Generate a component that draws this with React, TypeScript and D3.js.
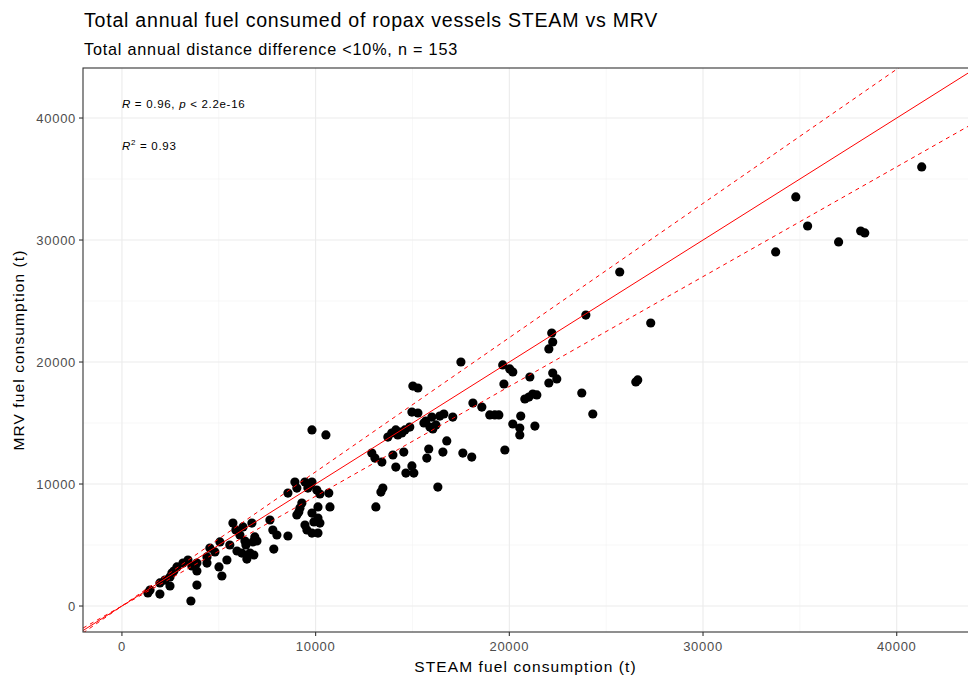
import * as d3 from 'd3';
import React from 'react';

// STEAM (x) vs MRV (y) annual fuel consumption, tonnes
const steam = [
  41290, 34790, 35400, 37000, 38140, 38350, 33750, 25700, 27300, 26630,
  23950, 23740, 24310, 22190, 22240, 22040, 19660, 20020, 20180, 21060,
  19720, 22240, 22450, 22040, 21210, 21010, 20800, 18120, 18580, 18990,
  19250, 19460, 20590, 20180, 20540, 20540, 21320, 19770, 17500, 15020,
  15280, 14970, 15280, 16000, 16410, 16620, 17080, 15590, 15900, 16210,
  16050, 14860, 14610, 14350, 14140, 13930, 13730, 14240, 16770, 12900,
  13060, 13420, 13990, 14550, 15840, 15740, 16570, 17600, 18060, 14140,
  14970, 14660, 15070, 13470, 13370, 16310, 13110, 9810, 10530, 8930,
  9450, 9810, 9030, 9600, 10060, 8570, 10220, 10680, 9290, 9190,
  9030, 10740, 10120, 9810, 10120, 9910, 10220, 9450, 9550, 9810,
  10120, 7640, 6710, 6250, 7790, 8000, 8570, 6860, 7840, 5730,
  5880, 6090, 6350, 6760, 6970, 5570, 5060, 4540, 5940, 6190,
  6450, 6810, 5420, 5010, 5160, 4390, 4390, 3870, 3870, 3410,
  3610, 3870, 3560, 2840, 2680, 2480, 2220, 2480, 1960, 1960,
  1450, 1340, 2580, 3150, 4800, 6610, 9700, 14450, 15690, 21420,
  6400, 9130, 26530,
];
const mrv = [
  35990, 33530, 31150, 29840, 30740, 30580, 29020, 27380, 23200, 18530,
  23850, 17460, 15740, 22380, 21640, 21070, 19760, 19430, 19180, 18770,
  18200, 19100, 18610, 18280, 17380, 17130, 16970, 16640, 16310, 15660,
  15660, 15660, 15570, 14920, 14590, 14020, 14750, 12790, 20000, 18030,
  17870, 15900, 15820, 15490, 15570, 15740, 15490, 15000, 14670, 14840,
  14510, 14670, 14430, 14260, 14430, 14180, 13850, 14020, 13530, 12540,
  12130, 11800, 12380, 12620, 12870, 12130, 12620, 12540, 12210, 11390,
  11480, 10900, 10900, 9670, 9340, 9750, 8120, 14430, 14020, 10160,
  10160, 10160, 9670, 9670, 9510, 9260, 9180, 9260, 8440, 8030,
  7460, 8120, 8120, 7620, 7210, 6890, 6800, 6640, 6230, 5980,
  5980, 7050, 6800, 6480, 6230, 5820, 5740, 5660, 4670, 6800,
  6230, 5820, 5330, 5250, 5330, 5000, 5250, 4750, 4510, 4340,
  3850, 4180, 3770, 3200, 2460, 4020, 3520, 3520, 2870, 3770,
  3280, 1720, 410, 3200, 2870, 2380, 2130, 1640, 1890, 980,
  1310, 1070, 2700, 3520, 4430, 4340, 9920, 14180, 15160, 17300,
  5000, 7710, 18360,
];

const majorTicks = [0, 10000, 20000, 30000, 40000];
const minorTicks = [-5000, 5000, 15000, 25000, 35000, 45000];
// reference lines: 1:1 and +/- 10 %
const refSlopes = [1, 1.1, 0.9];

const xDomain = [-2010, 43680];
const yDomain = [-2130, 44100];

const W = 968;
const H = 679;
const margin = { top: 68, right: 0, bottom: 47, left: 83 };

export default function App() {
  const x = d3.scaleLinear().domain(xDomain).range([margin.left, W - margin.right]);
  const y = d3.scaleLinear().domain(yDomain).range([H - margin.bottom, margin.top]);
  const x0 = margin.left, x1 = W - margin.right;
  const y0 = margin.top, y1 = H - margin.bottom;

  const pts = steam.map((s, i) => ({ s, m: mrv[i] }));
  const font = '"Liberation Sans", Arial, sans-serif';

  return (
    <svg width={W} height={H} style={{ position: 'absolute', left: 0, top: 0, fontFamily: font }}>
      <defs>
        <clipPath id="panel">
          <rect x={x0} y={y0} width={x1 - x0} height={y1 - y0} />
        </clipPath>
      </defs>
      <rect x={0} y={0} width={W} height={H} fill="white" />

      {/* grid */}
      <g clipPath="url(#panel)">
        {minorTicks.map((t) => (
          <g key={'mn' + t}>
            <line x1={x(t)} x2={x(t)} y1={y0} y2={y1} stroke="#f2f2f2" strokeWidth={0.6} />
            <line x1={x0} x2={x1} y1={y(t)} y2={y(t)} stroke="#f2f2f2" strokeWidth={0.6} />
          </g>
        ))}
        {majorTicks.map((t) => (
          <g key={'mj' + t}>
            <line x1={x(t)} x2={x(t)} y1={y0} y2={y1} stroke="#ebebeb" strokeWidth={1.1} />
            <line x1={x0} x2={x1} y1={y(t)} y2={y(t)} stroke="#ebebeb" strokeWidth={1.1} />
          </g>
        ))}

        {pts.map((d, i) => (
          <circle key={i} cx={x(d.s)} cy={y(d.m)} r={4.6} fill="black" />
        ))}

        {refSlopes.map((k) => {
          const xs = [xDomain[0], xDomain[1]];
          return (
            <path
              key={k}
              d={d3.line<number>().x((v) => x(v)).y((v) => y(v * k))(xs) || ''}
              fill="none"
              stroke="red"
              strokeWidth={1}
              strokeDasharray={k === 1 ? undefined : '4,4'}
            />
          );
        })}
      </g>

      {/* panel border */}
      <rect x={x0} y={y0} width={x1 - x0 + 10} height={y1 - y0} fill="none" stroke="#333333" strokeWidth={1.1} />

      {/* axes */}
      {majorTicks.map((t) => (
        <g key={'xt' + t}>
          <line x1={x(t)} x2={x(t)} y1={y1} y2={y1 + 4} stroke="#333333" strokeWidth={1.1} />
          <text x={x(t)} y={y1 + 19} textAnchor="middle" fontSize={13} letterSpacing={0.7} fill="#4d4d4d">{t}</text>
          <line x1={x0 - 4} x2={x0} y1={y(t)} y2={y(t)} stroke="#333333" strokeWidth={1.1} />
          <text x={x0 - 7} y={y(t) + 4.5} textAnchor="end" fontSize={13} letterSpacing={0.7} fill="#4d4d4d">{t}</text>
        </g>
      ))}

      <text x={(x0 + x1) / 2} y={672} textAnchor="middle" fontSize={15.5} letterSpacing={1.1} fill="black">STEAM fuel consumption (t)</text>
      <text transform={`translate(24,${(y0 + y1) / 2}) rotate(-90)`} textAnchor="middle" fontSize={15.5} letterSpacing={1.1} fill="black">MRV fuel consumption (t)</text>

      <text x={84} y={27} fontSize={19.6} letterSpacing={0.75} fill="black">Total annual fuel consumed of ropax vessels STEAM vs MRV</text>
      <text x={84} y={55} fontSize={16.2} letterSpacing={0.8} fill="black">Total annual distance difference &lt;10%, n = 153</text>

      {/* correlation annotation */}
      <text x={x(0)} y={108} fontSize={11.5} letterSpacing={0.7} fill="black">
        <tspan fontStyle="italic">R</tspan> = 0.96, <tspan fontStyle="italic">p</tspan> &lt; 2.2e-16
      </text>
      <text x={x(0)} y={150} fontSize={11.5} letterSpacing={0.7} fill="black">
        <tspan fontStyle="italic">R</tspan>
        <tspan fontSize={8} dy={-5}>2</tspan>
        <tspan dy={5}> = 0.93</tspan>
      </text>
    </svg>
  );
}
